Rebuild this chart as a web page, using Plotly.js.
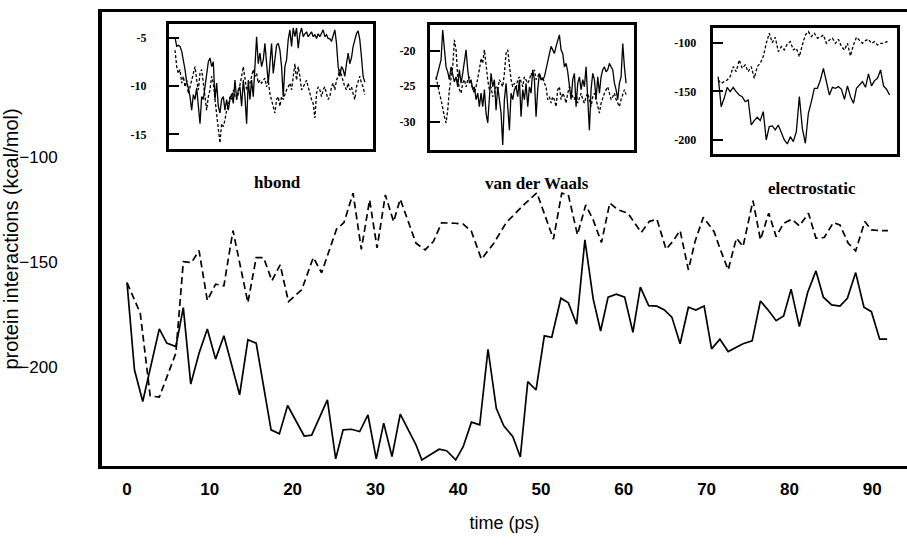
<!DOCTYPE html>
<html>
<head>
<meta charset="utf-8">
<script src="https://cdn.plot.ly/plotly-3.0.1.min.js"></script>
<style>html,body{margin:0;padding:0;background:#fff;}#chart{width:907px;height:553px;}</style>
</head>
<body>
<div id="chart"></div>
<script>
// ---------------- data ----------------
const xTickVals = [0,10,20,30,40,50,60,70,80,90];
const yTickVals = [-100,-150,-200];

// main plot: total protein interactions (kcal/mol) vs time (ps)
const solidTime = [0.0,0.9,1.9,3.9,4.8,5.9,6.8,7.7,8.7,9.7,
  10.7,11.7,13.6,14.6,15.6,17.4,18.4,19.4,21.4,22.3,
  24.2,25.2,26.1,27.1,28.1,29.1,30.1,31.0,32.0,33.0,
  34.9,35.6,37.7,38.6,39.7,40.6,41.6,42.6,43.6,44.6,
  45.5,46.6,47.5,48.4,49.4,50.4,51.3,52.4,53.3,54.3,
  55.3,56.3,57.2,58.1,59.1,60.1,61.1,62.0,63.0,64.0,
  64.9,65.8,66.8,67.8,68.7,69.7,70.6,71.6,72.6,73.6,
  74.4,75.5,76.5,77.5,78.4,79.3,80.2,81.2,82.2,83.2,
  84.1,85.1,86.1,87.0,88.0,89.0,89.9,90.9,91.8];
const solidValues = [-159.9,-201.4,-216.5,-181.9,-188.7,-190.3,-171.8,-208.2,-193.5,-182.0,
  -196.3,-185.2,-213.3,-187.1,-188.7,-230.0,-231.9,-218.4,-232.9,-232.5,
  -215.7,-243.8,-230.0,-229.7,-230.8,-222.9,-243.8,-226.8,-242.7,-222.5,
  -237.1,-244.3,-239.2,-239.9,-244.3,-238.0,-226.3,-227.6,-191.6,-219.7,
  -228.1,-233.2,-242.9,-207.0,-211.0,-185.2,-185.9,-167.3,-169.5,-179.7,
  -139.5,-167.6,-182.9,-166.8,-165.4,-166.8,-183.5,-162.0,-170.8,-171.1,
  -172.9,-176.3,-189.0,-171.6,-172.9,-171.0,-191.4,-186.8,-192.7,-190.6,
  -189.0,-187.6,-168.6,-173.3,-178.0,-175.7,-163.0,-180.8,-164.6,-154.3,
  -166.8,-170.5,-171.0,-167.3,-155.1,-171.6,-173.7,-186.8,-186.8];

const dashTime = [0.0,1.6,2.8,3.9,5.9,6.8,7.8,8.7,9.7,10.7,
  11.7,12.8,14.6,15.6,16.5,17.5,18.5,19.5,21.1,22.5,
  23.5,25.3,26.2,27.3,28.3,29.3,30.2,31.2,32.2,33.0,
  34.9,36.0,37.0,38.0,39.6,40.6,41.6,42.8,44.3,45.8,
  47.9,49.5,51.5,52.5,53.3,54.4,55.4,56.3,57.3,58.3,
  59.3,60.5,62.1,63.1,64.0,65.1,65.9,66.8,67.8,68.6,
  69.6,70.9,71.6,72.6,73.6,74.4,75.6,76.5,77.5,78.4,
  79.3,80.3,81.2,82.3,83.2,84.2,85.3,86.1,87.1,88.0,
  89.1,89.9,90.9,91.9];
const dashValues = [-159.9,-174.4,-213.8,-214.4,-193.5,-149.9,-150.3,-144.6,-168.4,-160.6,
  -161.4,-135.1,-169.4,-148.0,-148.0,-159.0,-151.4,-168.9,-163.3,-147.9,
  -155.2,-134.4,-131.3,-117.3,-144.0,-120.5,-143.3,-118.1,-130.8,-120.1,
  -141.1,-144.3,-140.3,-131.4,-131.6,-132.0,-135.5,-148.7,-141.1,-131.3,
  -122.9,-117.1,-139.2,-117.3,-118.1,-137.1,-122.9,-130.0,-140.8,-122.0,
  -125.2,-126.8,-136.0,-130.7,-129.7,-144.0,-140.3,-135.1,-153.8,-140.3,
  -128.7,-135.6,-143.5,-153.8,-138.7,-142.7,-120.8,-139.5,-126.8,-138.0,
  -131.6,-129.7,-132.9,-126.8,-138.7,-138.4,-131.3,-132.4,-141.1,-144.8,
  -130.8,-134.8,-135.1,-135.1];

// insets
const insetTime = [0,0.8,1.6,2.4,3.2,4,4.8,5.6,6.4,7.2,8,8.8,9.6,10.4,11.2,12,12.8,13.6,14.4,15.2,
  16,16.8,17.6,18.4,19.2,20,20.8,21.6,22.4,23.2,24,24.8,25.6,26.4,27.2,28,28.8,29.6,30.4,31.2,
  32,32.8,33.6,34.4,35.2,36,36.8,37.6,38.4,39.2,40,40.8,41.6,42.4,43.2,44,44.8,45.6,46.4,47.2,
  48,48.8,49.6,50.4,51.2,52,52.8,53.6,54.4,55.2,56,56.8,57.6,58.4,59.2,60,60.8,61.6,62.4,63.2,
  64,64.8,65.6,66.4,67.2,68,68.8,69.6,70.4,71.2,72,72.8,73.6,74.4,75.2,76,76.8,77.6,78.4,79.2,
  80,80.8,81.6,82.4,83.2,84,84.8,85.6,86.4,87.2,88,88.8,89.6,90.4,91.2];

const hbondSolid = [-5.0,-5.9,-5.8,-5.9,-6.4,-7.3,-8.3,-9.6,-10.2,-11.1,
  -12.5,-10.9,-11.4,-10.2,-12.1,-13.9,-11.1,-11.4,-10.1,-9.0,
  -7.5,-7.1,-8.0,-7.5,-11.4,-9.7,-12.1,-12.8,-11.4,-11.1,
  -12.5,-11.4,-12.5,-11.4,-10.8,-11.8,-9.4,-11.4,-10.4,-10.1,
  -12.1,-9.4,-11.1,-13.9,-9.4,-11.4,-9.4,-11.1,-8.3,-4.9,
  -7.7,-6.6,-8.0,-7.3,-5.6,-8.0,-9.7,-7.7,-5.6,-8.7,
  -7.0,-5.8,-5.6,-6.3,-8.0,-11.1,-8.0,-7.3,-5.2,-4.2,
  -5.9,-4.0,-4.9,-4.0,-6.1,-4.6,-4.0,-4.9,-4.6,-4.4,
  -4.9,-4.6,-4.4,-4.9,-4.7,-5.1,-4.6,-4.9,-4.6,-4.2,
  -4.9,-4.7,-5.1,-5.1,-5.4,-4.9,-4.2,-5.6,-8.0,-9.0,
  -8.0,-8.3,-9.0,-7.7,-6.6,-7.7,-7.1,-5.9,-5.2,-4.6,
  -4.3,-5.2,-7.0,-9.0,-9.6];
const hbondDash = [-6.3,-8.0,-8.7,-8.3,-9.7,-9.0,-10.1,-9.4,-10.8,-10.1,
  -9.7,-9.0,-8.0,-9.4,-10.4,-8.7,-8.3,-9.7,-11.4,-12.5,
  -11.1,-10.4,-9.0,-9.7,-11.4,-12.8,-14.6,-15.9,-13.9,-14.2,
  -13.5,-12.5,-12.1,-11.1,-11.4,-10.4,-11.1,-11.4,-10.8,-9.7,
  -9.0,-8.0,-9.0,-10.4,-10.1,-9.7,-9.0,-8.3,-9.0,-8.7,
  -9.7,-9.4,-9.7,-9.4,-9.2,-10.1,-9.4,-10.8,-11.4,-12.1,
  -12.8,-11.4,-11.1,-12.1,-11.1,-11.4,-10.8,-10.4,-10.1,-9.7,
  -10.4,-9.0,-7.7,-9.4,-8.0,-9.0,-10.4,-10.1,-9.7,-9.4,
  -10.1,-10.8,-11.4,-11.8,-13.3,-10.8,-10.1,-10.4,-11.1,-10.4,
  -10.1,-10.8,-11.4,-11.1,-10.1,-9.7,-10.4,-9.4,-9.0,-8.3,
  -9.0,-9.7,-10.1,-10.4,-9.7,-10.4,-10.1,-10.8,-11.4,-10.1,
  -9.4,-9.0,-9.7,-10.1,-10.9];

const vdwSolid = [-24.1,-23.0,-22.3,-21.3,-17.1,-19.9,-22.3,-23.0,-24.1,-22.3,
  -23.2,-24.4,-23.7,-25.1,-22.7,-24.6,-23.2,-21.3,-19.9,-22.7,
  -24.6,-24.1,-25.5,-25.1,-26.9,-26.0,-27.9,-26.0,-27.9,-25.5,
  -28.8,-30.2,-26.5,-23.2,-25.1,-24.1,-28.4,-25.1,-26.9,-28.8,
  -33.3,-26.9,-24.6,-28.4,-31.2,-26.0,-26.9,-25.5,-25.1,-26.5,
  -24.1,-29.3,-25.5,-26.9,-24.6,-27.9,-25.1,-26.0,-22.7,-24.1,
  -29.3,-25.5,-23.2,-24.1,-24.1,-23.7,-22.7,-21.8,-20.8,-19.4,
  -19.9,-20.4,-19.4,-18.7,-17.8,-19.9,-20.4,-22.3,-21.8,-23.0,
  -24.6,-26.9,-24.1,-23.2,-27.9,-24.6,-23.7,-25.5,-24.1,-25.1,
  -22.3,-26.0,-31.2,-25.5,-23.2,-24.1,-26.9,-23.7,-26.0,-23.7,
  -22.7,-22.3,-23.0,-22.7,-21.8,-22.3,-22.7,-24.6,-25.5,-26.9,
  -24.6,-23.7,-19.0,-22.3,-24.6];
const vdwDash = [-23.7,-25.1,-26.0,-26.9,-28.4,-29.3,-30.2,-28.4,-25.5,-24.1,
  -22.3,-18.5,-19.9,-23.7,-25.5,-26.0,-24.6,-24.1,-25.1,-24.1,
  -23.7,-24.6,-25.5,-26.0,-25.1,-24.1,-22.7,-21.1,-21.8,-19.9,
  -22.3,-24.1,-25.5,-25.1,-26.5,-26.0,-25.1,-25.5,-24.1,-24.6,
  -25.1,-23.2,-20.4,-19.9,-22.3,-24.1,-25.1,-24.6,-25.5,-24.1,
  -23.7,-24.6,-25.1,-23.7,-24.1,-24.6,-24.1,-23.2,-23.7,-22.7,
  -24.1,-23.7,-23.2,-24.1,-23.7,-24.6,-25.1,-26.9,-26.5,-27.4,
  -26.5,-26.9,-27.9,-25.5,-25.1,-26.9,-26.0,-26.5,-27.4,-26.0,
  -25.1,-25.5,-26.5,-26.9,-26.0,-27.4,-26.5,-26.0,-26.9,-27.4,
  -26.5,-26.0,-26.9,-27.9,-26.5,-26.0,-26.9,-27.9,-28.8,-27.4,
  -26.5,-26.0,-25.5,-25.1,-26.0,-26.9,-26.5,-26.0,-26.9,-27.4,
  -27.9,-26.9,-26.0,-25.5,-26.2];

const elecTime = [0,1.6,3.2,4.8,6.4,8,9.6,11.2,12.8,14.4,16,17.6,19.2,20.8,22.4,24,25.6,27.2,28.8,30.4,
  32,33.6,35.2,36.8,38.4,40,41.6,43.2,44.8,46.4,48,49.6,51.2,52.8,54.4,56,57.6,59.2,60.8,62.4,
  64,65.6,67.2,68.8,70.4,72,73.6,75.2,76.8,78.4,80,81.6,83.2,84.8,86.4,88,89.6,91.2];
const elecSolid = [-134.9,-165.8,-157.2,-145.9,-150.3,-145.9,-150.3,-153.8,-155.5,-160.6,
  -158.9,-184.6,-180.1,-176.7,-180.1,-170.9,-200.0,-186.3,-185.6,-189.7,
  -184.6,-193.2,-200.0,-204.1,-196.6,-201.7,-191.4,-155.5,-188.0,-203.4,
  -172.6,-160.6,-146.9,-146.9,-138.4,-126.4,-141.8,-153.8,-145.9,-146.9,
  -145.2,-147.9,-158.2,-144.5,-155.5,-162.3,-146.9,-143.5,-140.1,-145.9,
  -132.2,-144.5,-139.0,-136.6,-128.1,-144.5,-147.9,-153.8];
const elecDash = [-138.4,-141.8,-140.1,-138.4,-134.9,-124.7,-129.8,-117.8,-126.4,-122.9,
  -129.8,-124.7,-136.6,-124.7,-121.2,-114.4,-100.7,-90.4,-100.0,-94.5,
  -109.2,-104.1,-107.5,-101.4,-99.0,-107.5,-105.8,-114.4,-102.4,-92.1,
  -88.7,-93.8,-90.4,-95.5,-94.5,-92.1,-100.7,-97.3,-95.5,-100.7,
  -96.6,-104.1,-107.5,-100.7,-113.7,-102.4,-94.5,-97.9,-100.7,-97.9,
  -96.6,-100.7,-99.0,-102.4,-100.7,-100.7,-99.0,-100.0];

const hbondTicks = [-5,-10,-15];
const vdwTicks = [-20,-25,-30];
const elecTicks = [-100,-150,-200];
const insetNames = ["hbond","van der Waals","electrostatic"];

// ---------------- layout helpers (pixel placement) ----------------
const W = 907, H = 553, L = 102, T = 12, PW = 805, PH = 454;
const px2x = p => (p - L) / PW;
const py2y = p => (T + PH - p) / PH;

const sansFont = "Liberation Sans, Arial, sans-serif";
const serifFont = "Liberation Serif, Times New Roman, serif";

function mainLine(x, y, dash) {
  return {type:"scatter", mode:"lines", x:x, y:y, xaxis:"x", yaxis:"y",
    line:{color:"#000", width:1.7, dash:dash}, hoverinfo:"skip", showlegend:false};
}
function insetLine(x, y, n, dash) {
  return {type:"scatter", mode:"lines", x:x, y:y, xaxis:"x"+n, yaxis:"y"+n,
    line:{color:"#000", width:1.3, dash:dash}, hoverinfo:"skip", showlegend:false};
}

const data = [
  mainLine(dashTime, dashValues, "7px,4px"),
  mainLine(solidTime, solidValues, "solid"),
  insetLine(insetTime, hbondDash, 2, "3px,2px"),
  insetLine(insetTime, hbondSolid, 2, "solid"),
  insetLine(insetTime, vdwDash, 3, "3px,2px"),
  insetLine(insetTime, vdwSolid, 3, "solid"),
  insetLine(elecTime, elecDash, 4, "3px,2px"),
  insetLine(elecTime, elecSolid, 4, "solid")
];

function insetX(n, a, b) {
  return {domain:[px2x(a), px2x(b)], anchor:"y"+n, range:[-2.9, 95],
    showline:true, mirror:true, linewidth:3, linecolor:"#000",
    showticklabels:false, ticks:"", showgrid:false, zeroline:false};
}
function insetY(n, top, bot, range, ticks, standoff) {
  return {domain:[py2y(bot), py2y(top)], anchor:"x"+n, range:range,
    showline:true, mirror:true, linewidth:3, linecolor:"#000",
    tickvals:ticks, ticktext:ticks.map(String), ticks:"inside", ticklen:10, tickwidth:2, tickcolor:"#000",
    ticklabelstandoff:standoff,
    tickfont:{family:serifFont, size:12, color:"#000", weight:"bold"},
    showgrid:false, zeroline:false};
}

const layout = {
  width:W, height:H,
  margin:{l:L, r:W-L-PW, t:T, b:H-T-PH, pad:0},
  paper_bgcolor:"#fff", plot_bgcolor:"rgba(0,0,0,0)",
  showlegend:false,
  xaxis:{range:[-3.02, 94.2], showline:true, mirror:true, linewidth:3, linecolor:"#000",
    tickvals:xTickVals, ticks:"", showgrid:false, zeroline:false,
    ticklabelstandoff:6,
    tickfont:{family:sansFont, size:17, color:"#000", weight:"bold"},
    title:{text:"time (ps)", font:{family:sansFont, size:18, color:"#000"}, standoff:18}},
  yaxis:{range:[-247.2, -31], showline:true, mirror:false, linewidth:4, linecolor:"#000",
    tickvals:yTickVals, ticks:"", showgrid:false, zeroline:false,
    ticklabelstandoff:37,
    tickfont:{family:sansFont, size:17, color:"#000"},
    title:{text:"protein interactions (kcal/mol)", font:{family:sansFont, size:20, color:"#000"}, standoff:0}},
  xaxis2: insetX(2, 169, 372.7),
  yaxis2: insetY(2, 24, 149.3, [-16.55, -3.59], hbondTicks, 17),
  xaxis3: insetX(3, 430, 634),
  yaxis3: insetY(3, 25, 150, [-34.0, -16.4], vdwTicks, 9),
  xaxis4: insetX(4, 712.7, 896.7),
  yaxis4: insetY(4, 28.3, 154, [-214.4, -85.3], elecTicks, 11),
  annotations: [
    {text:insetNames[0], x:px2x(277), y:py2y(182)},
    {text:insetNames[1], x:px2x(537), y:py2y(183)},
    {text:insetNames[2], x:px2x(812), y:py2y(188)}
  ].map(a => Object.assign(a, {xref:"paper", yref:"paper", xanchor:"center", yanchor:"middle",
    showarrow:false, font:{family:serifFont, size:17, color:"#000", weight:"bold"}}))
};

Plotly.newPlot("chart", data, layout, {staticPlot:true, displayModeBar:false});
</script>
</body>
</html>
